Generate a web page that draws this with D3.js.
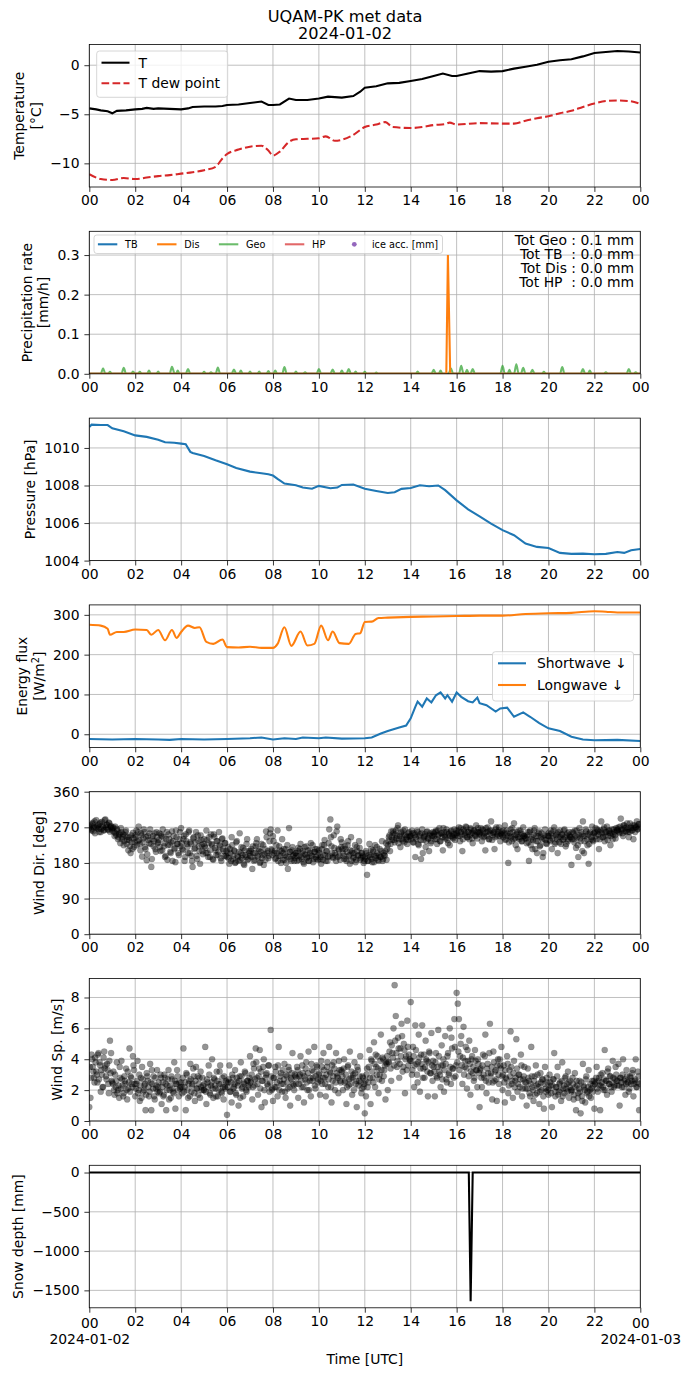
<!DOCTYPE html>
<html>
<head>
<meta charset="utf-8">
<script src="https://cdn.jsdelivr.net/npm/d3@7"></script>
<style>
  body { margin: 0; background: #fff; }
  svg { font-family: "DejaVu Sans", sans-serif; }
  text { white-space: pre; }
</style>
</head>
<body>
<div id="chart"></div>
<script>
// ---- data (hours since 2024-01-02 00 UTC) ----
var hourTicks = [0, 2, 4, 6, 8, 10, 12, 14, 16, 18, 20, 22, 24];
var hourTickLabels = ["00", "02", "04", "06", "08", "10", "12", "14", "16", "18", "20", "22", "00"];

var airTemp = [[0,-4.4],[0.3,-4.5],[0.5,-4.6],[0.8,-4.7],[1,-4.9],[1.2,-4.65],[1.6,-4.6],[2,-4.5],[2.3,-4.45],[2.5,-4.35],[2.8,-4.45],[3,-4.4],[3.5,-4.45],[4,-4.5],[4.3,-4.4],[4.5,-4.25],[5,-4.2],[5.5,-4.2],[5.8,-4.15],[6,-4.05],[6.5,-4.0],[7,-3.85],[7.5,-3.7],[7.8,-4.05],[8,-4.05],[8.3,-4.0],[8.7,-3.4],[9,-3.55],[9.5,-3.55],[10,-3.4],[10.4,-3.2],[11,-3.3],[11.5,-3.15],[11.8,-2.7],[12,-2.3],[12.5,-2.15],[13,-1.85],[13.5,-1.8],[14,-1.6],[14.5,-1.4],[15,-1.1],[15.4,-0.85],[15.8,-1.1],[16,-1.1],[16.5,-0.85],[17,-0.6],[17.5,-0.65],[18,-0.6],[18.5,-0.35],[19,-0.15],[19.5,0.05],[20,0.35],[20.5,0.5],[21,0.6],[21.5,0.9],[22,1.25],[22.5,1.35],[23,1.45],[23.5,1.4],[24,1.3]];
var dewPoint = [[0,-11.1],[0.5,-11.6],[1,-11.7],[1.5,-11.5],[2,-11.6],[2.5,-11.45],[3,-11.3],[3.5,-11.2],[4,-11.05],[4.5,-10.9],[5,-10.7],[5.5,-10.35],[5.8,-9.5],[6,-9.05],[6.5,-8.6],[7,-8.3],[7.5,-8.2],[7.8,-8.7],[8,-9.2],[8.3,-8.8],[8.7,-7.8],[9,-7.55],[9.5,-7.5],[10,-7.45],[10.3,-7.25],[10.7,-7.7],[11,-7.6],[11.5,-7.1],[12,-6.3],[12.5,-6.05],[12.9,-5.8],[13.2,-6.3],[14,-6.4],[14.5,-6.3],[15,-6.1],[15.5,-6.0],[15.7,-5.85],[16,-6.05],[17,-5.9],[18,-5.95],[18.5,-5.95],[19,-5.65],[19.5,-5.4],[20,-5.2],[20.5,-4.9],[21,-4.65],[21.5,-4.25],[22,-3.9],[22.5,-3.65],[23,-3.6],[23.5,-3.65],[24,-3.95]];

var rateTB = [[0,0],[24,0]];
var rateHP = [[0,0],[24,0]];
var rateDis = [[0,0],[15.55,0],[15.62,0.3],[15.72,0],[24,0]];
var rateGeo = [[0,0],[0.5,0],[0.6,0.014],[0.7,0],[0.82,0],[0.9,0.005],[0.98,0],[1.4,0],[1.5,0.015],[1.6,0],[1.82,0],[1.9,0.006],[2.0,0],[2.12,0],[2.2,0.005],[2.28,0],[2.52,0],[2.6,0.008],[2.68,0],[2.92,0],[3.0,0.006],[3.08,0],[3.5,0],[3.6,0.018],[3.72,0],[3.78,0],[3.85,0.008],[3.93,0],[4.2,0],[4.3,0.012],[4.4,0],[4.92,0],[5.0,0.005],[5.08,0],[5.22,0],[5.3,0.004],[5.38,0],[5.5,0],[5.6,0.016],[5.7,0],[6.2,0],[6.3,0.011],[6.4,0],[6.52,0],[6.6,0.008],[6.68,0],[6.92,0],[7.0,0.006],[7.08,0],[7.32,0],[7.4,0.006],[7.48,0],[7.72,0],[7.8,0.007],[7.88,0],[8.02,0],[8.1,0.008],[8.18,0],[8.4,0],[8.5,0.017],[8.6,0],[8.92,0],[9.0,0.006],[9.08,0],[9.32,0],[9.4,0.004],[9.48,0],[9.9,0],[10.0,0.012],[10.1,0],[10.5,0],[10.6,0.011],[10.7,0],[10.92,0],[11.0,0.008],[11.08,0],[11.2,0],[11.3,0.012],[11.4,0],[11.52,0],[11.6,0.006],[11.68,0],[11.92,0],[12.0,0.005],[12.08,0],[12.42,0],[12.5,0.003],[12.58,0],[14.22,0],[14.3,0.006],[14.38,0],[14.9,0],[15.0,0.010],[15.1,0],[15.22,0],[15.3,0.008],[15.38,0],[15.65,0],[15.75,0.014],[15.85,0],[16.1,0],[16.2,0.020],[16.3,0],[16.37,0],[16.45,0.010],[16.53,0],[16.6,0],[16.7,0.012],[16.8,0],[17.9,0],[18.0,0.020],[18.1,0],[18.22,0],[18.3,0.010],[18.38,0],[18.5,0],[18.6,0.024],[18.7,0],[18.8,0],[18.9,0.015],[19.0,0],[19.2,0],[19.3,0.010],[19.4,0],[19.72,0],[19.8,0.005],[19.88,0],[20.5,0],[20.6,0.017],[20.7,0],[21.4,0],[21.5,0.012],[21.6,0],[21.72,0],[21.8,0.008],[21.88,0],[22.42,0],[22.5,0.004],[22.58,0],[23.4,0],[23.5,0.012],[23.6,0],[23.72,0],[23.8,0.004],[23.88,0],[24,0]];
var precipTotals = ["Tot Geo : 0.1 mm", "Tot TB  : 0.0 mm", "Tot Dis : 0.0 mm", "Tot HP  : 0.0 mm"];

var pressure = [[0,1011.12],[0.1,1011.24],[0.5,1011.22],[0.8,1011.22],[1,1011.05],[1.5,1010.89],[2,1010.67],[2.5,1010.59],[3,1010.44],[3.3,1010.3],[3.7,1010.28],[4,1010.23],[4.2,1010.2],[4.4,1009.79],[4.5,1009.73],[5,1009.57],[5.5,1009.34],[6,1009.13],[6.4,1008.93],[7,1008.74],[7.5,1008.65],[7.8,1008.6],[8,1008.53],[8.2,1008.35],[8.5,1008.1],[9,1008.01],[9.3,1007.89],[9.7,1007.83],[10,1007.98],[10.5,1007.85],[10.8,1007.89],[11,1008.03],[11.5,1008.05],[12,1007.83],[12.5,1007.71],[13,1007.6],[13.3,1007.64],[13.6,1007.82],[14,1007.87],[14.4,1008.01],[14.8,1007.96],[15.2,1008.0],[15.5,1007.75],[16,1007.21],[16.5,1006.73],[17,1006.36],[17.5,1005.97],[18,1005.62],[18.5,1005.35],[19,1004.91],[19.5,1004.73],[20,1004.67],[20.5,1004.41],[21,1004.36],[21.5,1004.37],[22,1004.34],[22.5,1004.36],[23,1004.46],[23.3,1004.41],[23.6,1004.55],[24,1004.62]];

var longwave = [[0,275],[0.5,273],[0.8,265],[0.9,250],[1.2,257],[1.5,257],[2,263],[2.5,262],[2.7,250],[3,262],[3.3,236],[3.6,262],[3.8,242],[4.0,257],[4.3,273],[4.6,267],[4.8,269],[5.1,232],[5.4,227],[5.8,238],[6.0,219],[6.5,218],[7,220],[7.5,217],[8,217],[8.2,227],[8.5,269],[8.8,222],[9.2,258],[9.5,223],[9.8,227],[10.1,273],[10.4,236],[10.6,258],[10.9,229],[11.3,227],[11.6,252],[11.8,254],[12,282],[12.3,283],[12.6,292],[13,293],[14,295],[15,296],[16,297],[17,298],[18,298],[19,302],[20,304],[21,305],[22,309],[22.5,308],[23,306],[24,306]];
var shortwave = [[0,-12],[1,-13],[2,-12],[3,-13],[3.5,-14],[4,-12],[5,-13],[6,-12],[7,-10],[7.5,-8],[8,-13],[8.5,-10],[9,-12],[9.3,-8],[10,-10],[10.3,-8],[11,-11],[12,-10],[12.3,-8],[12.7,2],[13,8],[13.5,17],[13.8,22],[14,40],[14.2,69],[14.3,82],[14.5,69],[14.7,90],[14.9,80],[15.1,98],[15.3,105],[15.5,90],[15.6,98],[15.8,82],[16,105],[16.2,94],[16.5,83],[16.7,80],[16.9,92],[17,78],[17.3,73],[17.7,57],[17.9,65],[18.2,67],[18.5,44],[18.9,55],[19.2,44],[19.6,28],[20,15],[20.5,8],[21,-6],[21.5,-13],[22,-15],[23,-14],[24,-17]];
var fluxLabels = ["Shortwave \u2193", "Longwave \u2193"];

// two interleaved sets of readings, each one every 3 minutes (one row per hour);
// set B is taken 1.5 minutes after set A
var windStepHours = 0.05;
var windOffsetB = 0.025;
var windDirA = [
  268,275,262,281,270,255,288,272,266,279,258,284,270,263,290,276,265,282,259,273,
  262,270,248,255,266,240,252,230,258,245,225,250,262,238,212,244,205,232,256,220,
  250,262,235,272,228,255,196,242,258,215,187,248,230,265,170,240,222,255,208,245,
  232,255,210,248,265,222,195,240,188,252,226,205,260,235,215,182,245,228,200,258,
  268,215,240,185,252,228,205,262,232,198,170,245,218,258,190,236,210,250,225,202,
  240,218,262,205,230,195,252,225,188,246,212,235,200,258,222,185,242,210,230,198,
  195,220,178,205,245,190,212,180,232,198,185,255,205,192,218,175,200,228,188,210,
  198,215,165,205,188,222,240,195,210,182,228,200,175,215,260,205,192,235,265,212,
  248,205,190,225,262,198,212,180,240,205,188,215,196,165,268,208,185,220,200,192,
  205,185,218,198,228,190,210,178,202,222,195,185,212,230,198,182,208,215,190,200,
  212,190,178,225,200,238,185,210,195,265,290,222,195,250,205,185,272,215,198,240,
  232,205,190,215,185,225,198,178,245,210,192,205,182,220,198,235,188,205,195,180,
  195,210,150,185,228,200,190,212,182,225,198,205,185,215,195,235,190,200,210,188,
  225,245,210,260,238,255,232,262,248,275,240,220,258,235,250,265,240,228,255,245,
  248,262,232,255,195,240,258,225,252,190,265,238,248,220,258,242,210,255,235,250,
  255,240,262,228,250,268,235,255,212,258,245,265,238,252,225,260,248,242,265,250,
  262,248,270,235,258,210,265,250,272,245,258,240,268,255,230,262,250,275,242,258,
  255,268,235,262,248,212,258,270,240,262,285,238,255,215,265,248,258,270,235,252,
  250,262,275,240,255,180,248,265,235,258,280,242,252,215,262,245,255,235,270,248,
  245,230,258,185,262,240,215,252,268,235,205,248,260,225,255,195,242,265,230,250,
  255,238,262,215,248,270,232,255,205,245,262,228,252,240,265,222,250,235,258,245,
  175,258,240,262,218,245,195,268,235,252,285,205,248,260,225,178,255,240,272,235,
  255,268,240,262,215,258,285,245,265,235,258,272,248,262,225,255,240,265,250,268,
  262,270,255,292,265,248,275,260,270,258,245,280,268,262,240,275,270,285,265,278
];
var windDirB = [
  272,265,278,260,285,270,268,275,258,282,266,274,262,288,270,277,264,280,271,267,
  268,258,272,250,262,245,255,268,240,252,235,258,228,246,238,222,250,215,242,232,
  245,225,258,238,212,250,232,265,220,245,202,238,255,228,190,248,235,215,258,230,
  238,220,252,212,245,230,198,258,225,240,208,232,185,248,218,262,228,205,240,222,
  230,212,248,195,235,220,258,205,228,185,242,215,232,198,250,222,178,238,210,228,
  222,205,238,195,245,212,228,190,252,218,200,235,208,225,192,240,215,198,230,210,
  205,192,215,185,225,198,210,182,235,195,208,188,220,200,178,212,195,240,190,205,
  210,195,222,185,205,230,198,215,180,208,192,225,202,188,245,210,198,255,215,200,
  235,210,192,205,185,222,198,210,188,215,200,180,225,195,208,190,212,198,185,205,
  198,210,188,215,195,205,182,220,200,192,212,185,205,198,225,190,208,195,215,188,
  205,195,215,188,225,200,210,185,230,198,245,205,192,218,200,260,195,212,188,220,
  215,198,222,190,208,235,200,212,185,205,195,225,188,210,200,218,192,205,198,185,
  190,205,185,200,195,215,182,208,198,192,220,188,200,195,210,185,205,198,230,215,
  235,250,228,245,260,238,252,242,268,230,248,255,240,262,232,250,245,238,258,248,
  240,255,232,250,245,262,228,248,238,255,205,245,252,235,260,242,250,230,248,258,
  248,258,240,262,252,235,255,245,268,250,242,258,230,255,248,262,245,252,238,255,
  255,262,248,268,252,240,260,255,270,245,258,250,265,242,255,262,248,258,268,252,
  258,250,265,245,255,268,248,260,240,255,262,250,258,245,270,252,262,248,255,260,
  245,255,238,262,248,232,255,245,268,240,250,225,258,245,240,262,235,252,248,242,
  242,250,232,258,225,245,238,262,215,248,235,255,222,245,240,205,250,238,228,248,
  248,235,255,242,262,228,250,240,258,232,245,252,238,262,245,228,255,240,250,245,
  240,255,232,248,262,225,250,242,258,210,248,235,265,240,252,228,258,245,238,255,
  258,248,265,252,240,262,255,245,270,250,258,238,262,255,248,265,252,258,242,262,
  265,258,272,262,255,275,268,260,280,265,258,270,262,275,268,258,272,265,278,270
];
var windSpeedA = [
  0.9,1.5,4.3,3.5,2.8,4.1,3.2,2.5,4.4,3.8,1.9,3.0,2.2,4.5,3.6,2.7,3.3,1.8,5.2,4.4,
  2.5,3.2,1.7,2.2,3.8,2.0,1.5,2.8,3.9,2.3,1.8,2.6,3.4,1.4,2.1,4.7,2.9,2.4,4.2,3.3,
  1.6,2.4,3.9,2.0,1.3,2.8,3.5,1.9,2.3,0.7,3.1,2.6,1.6,3.7,0.7,2.4,2.9,1.4,2.1,3.3,
  2.2,1.8,3.0,1.1,2.5,1.7,2.8,0.7,2.3,3.3,2.0,1.5,2.7,1.9,3.8,0.8,2.4,2.9,1.6,2.1,
  2.5,1.8,4.7,2.2,0.7,3.0,1.5,2.6,3.7,1.9,2.4,2.9,1.3,3.5,2.1,1.7,2.8,3.2,2.0,2.3,
  2.0,4.8,1.1,2.5,3.6,1.8,2.3,4.0,1.5,2.7,2.1,3.2,1.6,2.4,3.6,1.9,2.8,1.4,2.2,2.6,
  0.4,2.5,3.6,1.9,1.2,2.8,2.2,3.3,1.7,2.5,1.0,2.9,3.8,2.1,1.6,2.4,3.1,1.9,2.6,2.2,
  4.2,2.6,1.4,3.7,2.3,4.7,2.8,1.7,3.4,2.1,0.9,2.6,4.0,1.2,3.0,2.4,3.6,1.9,5.9,2.0,
  1.3,2.8,3.5,2.2,1.6,4.8,2.6,3.1,1.9,2.4,3.7,1.5,2.9,2.1,3.3,1.0,2.7,4.4,2.3,3.0,
  2.4,3.5,1.5,2.9,4.2,2.2,3.1,1.2,2.7,3.8,2.0,4.5,2.6,1.6,3.3,2.8,4.8,2.1,3.6,2.5,
  3.0,1.7,3.9,2.4,4.4,2.8,1.6,3.5,2.2,4.8,3.1,1.2,2.6,3.8,2.0,4.4,2.9,1.8,3.3,2.5,
  3.2,2.0,4.0,2.6,1.1,3.5,2.3,4.5,2.8,1.7,3.0,3.8,2.4,0.9,3.3,2.6,4.2,1.8,2.9,2.2,
  0.5,1.6,3.4,2.5,4.6,1.1,3.9,2.8,5.1,2.2,3.5,4.2,1.8,3.0,5.6,2.6,4.0,3.3,1.4,3.7,
  2.0,3.8,5.1,2.6,4.4,6.0,8.8,6.8,3.5,5.4,2.8,4.7,6.3,3.2,5.0,1.8,4.2,6.5,3.6,4.0,
  7.7,3.0,4.8,2.2,6.2,3.7,2.5,5.6,1.9,4.3,6.2,3.4,2.8,5.2,3.9,1.6,4.5,3.1,5.7,2.6,
  3.5,1.6,4.4,2.8,5.9,3.2,2.2,4.9,3.6,1.9,5.5,2.7,4.2,3.0,6.0,2.4,4.7,3.4,6.6,2.9,
  8.3,7.6,6.6,4.2,5.5,2.4,6.1,3.5,4.8,2.1,3.9,5.2,1.7,4.0,3.1,2.6,4.6,3.3,2.2,3.7,
  0.9,3.4,2.2,4.3,2.8,5.6,1.8,3.7,2.5,6.3,3.1,1.4,4.5,2.6,3.3,1.3,4.0,2.4,3.6,4.8,
  2.0,3.6,1.2,2.8,4.2,1.8,3.3,5.8,2.4,1.5,3.9,2.6,5.3,1.9,3.0,2.2,4.3,1.6,2.7,3.5,
  2.1,1.0,3.4,2.6,1.6,4.8,2.2,1.3,2.9,3.6,1.8,2.4,1.1,3.1,2.0,2.7,0.8,3.5,1.9,2.5,
  1.7,3.0,2.3,0.9,2.7,4.4,1.6,2.2,3.5,1.9,2.5,1.3,3.8,2.1,1.8,2.9,2.4,3.2,1.5,2.6,
  1.9,2.8,1.4,3.1,0.7,2.3,1.8,2.6,0.5,1.6,3.7,2.2,1.2,2.9,1.9,3.3,2.0,1.5,2.6,2.3,
  0.8,2.5,3.5,1.9,2.8,0.7,2.3,3.1,2.0,4.6,2.6,1.7,3.4,2.4,2.9,1.9,3.9,2.2,2.7,3.0,
  2.3,3.7,1.0,2.8,2.2,4.0,2.6,1.7,3.3,2.5,1.9,2.9,2.4,3.1,1.6,2.6,4.0,2.2,3.2,0.7
];
var windSpeedB = [
  3.5,2.8,4.0,3.2,2.5,3.8,3.0,4.3,2.7,3.6,3.3,2.2,4.1,3.4,2.9,3.7,2.4,3.9,3.1,2.6,
  2.4,2.0,3.0,2.6,1.8,2.3,3.5,2.1,2.7,1.6,2.9,2.4,2.0,3.2,2.5,1.9,2.8,2.2,3.6,2.4,
  2.1,2.6,1.8,3.0,2.3,1.5,2.7,2.0,2.4,1.7,2.9,2.2,1.9,2.5,3.3,2.1,1.6,2.8,2.3,1.9,
  2.5,1.9,2.8,2.2,1.6,3.0,2.4,2.0,2.7,1.4,2.3,2.9,2.1,1.8,2.6,2.4,3.3,2.0,2.5,2.2,
  2.2,2.8,1.9,2.5,3.1,2.0,2.4,1.6,2.7,2.3,3.4,1.8,2.6,2.1,2.9,2.4,1.5,2.2,2.8,2.0,
  2.4,1.9,2.7,2.2,3.0,1.7,2.5,2.1,2.8,2.3,1.6,2.6,2.0,3.2,2.4,1.8,2.2,2.9,2.1,2.5,
  2.2,2.7,1.9,2.5,3.0,2.1,2.4,1.8,2.8,2.3,2.6,1.5,2.9,2.2,2.5,3.2,2.0,2.6,2.3,2.8,
  2.5,3.0,2.2,3.4,2.7,3.8,2.4,2.9,4.6,3.2,2.6,3.5,2.0,2.8,3.1,2.3,3.6,2.5,2.9,2.1,
  2.8,2.2,3.2,2.5,3.6,2.0,2.9,2.4,3.3,2.7,1.9,3.0,2.5,3.5,2.2,2.8,3.1,2.4,2.0,2.9,
  2.8,3.3,2.4,3.0,2.6,3.6,2.2,2.9,3.4,2.5,3.1,2.0,2.8,3.7,2.6,3.2,2.3,2.9,3.5,2.7,
  3.1,2.6,3.5,2.8,3.3,2.4,3.0,3.8,2.7,3.2,2.2,3.6,2.9,3.4,2.5,3.1,2.8,3.9,2.6,3.3,
  2.9,3.4,2.5,3.0,2.2,3.6,2.7,2.4,3.2,2.8,2.0,3.1,2.6,3.5,2.3,2.9,2.5,2.1,2.8,2.4,
  2.6,3.0,2.2,3.5,2.8,4.0,3.2,2.5,3.7,4.3,3.0,3.4,2.7,3.9,3.3,4.1,2.9,3.6,3.8,4.2,
  3.8,4.5,3.4,4.9,4.1,3.6,5.2,4.4,3.9,4.7,3.7,4.2,5.5,3.5,4.6,4.0,3.3,4.8,4.3,3.9,
  3.9,3.3,4.2,3.6,4.6,3.0,3.8,4.1,3.4,3.7,2.8,4.3,3.5,4.0,3.2,3.8,4.4,3.1,3.6,3.9,
  3.2,3.8,2.9,3.5,4.2,3.0,3.6,2.7,4.0,3.3,3.7,2.5,4.4,3.1,3.5,5.4,3.4,2.8,4.8,3.6,
  3.8,4.5,3.3,5.0,3.6,4.1,3.0,3.9,3.4,4.6,2.9,3.7,3.2,4.2,3.5,2.8,3.9,3.3,4.0,3.1,
  3.3,2.8,3.6,3.0,4.2,2.6,3.4,3.1,4.4,2.9,3.5,2.5,3.8,3.2,2.7,3.6,3.0,4.0,3.4,2.9,
  3.0,2.5,3.3,2.7,3.7,2.3,2.9,3.5,2.6,3.1,2.2,2.8,3.4,2.4,3.0,2.7,3.6,2.1,2.9,2.5,
  2.5,2.1,2.8,1.8,2.4,2.9,2.0,2.6,1.7,2.3,3.0,2.2,1.9,2.5,2.7,1.6,2.4,2.1,2.8,2.0,
  2.1,2.5,1.8,2.3,2.7,1.9,2.2,2.9,1.7,2.4,2.0,2.6,1.6,2.3,2.8,2.1,1.9,2.5,2.2,2.0,
  2.0,2.4,1.7,2.2,2.6,1.5,2.1,1.9,2.5,1.3,2.3,2.0,2.7,1.8,2.2,1.6,2.4,2.1,1.9,2.6,
  2.4,2.8,2.1,2.6,2.3,3.0,2.5,2.2,2.7,2.0,2.6,3.2,2.4,2.9,2.2,2.5,2.8,2.3,3.5,2.6,
  2.6,2.3,2.8,2.5,3.0,2.2,2.7,2.4,2.9,2.5,2.1,2.8,2.6,3.3,2.4,2.7,2.2,2.5,2.9,2.4
];

var snowDepth = [[0,0],[16.53,0],[16.61,-1640],[16.7,0],[24,0]];

// ---- layout ----
var width = 690, height = 1377;
var plotLeft = 89.3, plotRight = 640.3;
var panelTop0 = 44.5, panelStep = 186.8, panelH = 142.5;
var fs = 13.9;

var svg = d3.select("#chart").append("svg")
  .attr("width", width)
  .attr("height", height);

var x = d3.scaleLinear().domain([0, 24]).range([plotLeft, plotRight]);

function minusFmt(d) { return d3.format("d")(d).replace("-", "\u2212"); }

var panels = [
  { y: [-12.41, 2.11], ticks: [-10, -5, 0], fmt: minusFmt, label: ["Temperature", "[\u00b0C]"], labelX: 41.1 },
  { y: [0, 0.36], ticks: [0, 0.1, 0.2, 0.3], fmt: d3.format(".1f"), label: ["Precipitation rate", "[mm/h]"], labelX: 48.3 },
  { y: [1004, 1011.59], ticks: [1004, 1006, 1008, 1010], fmt: d3.format("d"), label: ["Pressure [hPa]"], labelX: 35 },
  { y: [-33, 325], ticks: [0, 100, 200, 300], fmt: d3.format("d"), label: ["Energy flux", "[W/m2]"], labelX: 43.9 },
  { y: [0, 360], ticks: [0, 90, 180, 270, 360], fmt: d3.format("d"), label: ["Wind Dir. [deg]"], labelX: 43.9 },
  { y: [0, 9.23], ticks: [0, 2, 4, 6, 8], fmt: d3.format("d"), label: ["Wind Sp. [m/s]"], labelX: 61.6 },
  { y: [-1722, 92], ticks: [-1500, -1000, -500, 0], fmt: minusFmt, label: ["Snow depth [mm]"], labelX: 23.4 }
];

panels.forEach(function(p, i) {
  var top = panelTop0 + i * panelStep, bottom = top + panelH;
  p.top = top; p.bottom = bottom;
  p.scale = d3.scaleLinear().domain(p.y).range([bottom, top]);
  var g = svg.append("g");
  p.g = g;

  // grid
  g.selectAll(".vg").data(hourTicks).enter().append("line")
    .attr("x1", function(d) { return x(d); }).attr("x2", function(d) { return x(d); })
    .attr("y1", top).attr("y2", bottom)
    .attr("stroke", "#b0b0b0").attr("stroke-width", 0.8);
  g.selectAll(".hg").data(p.ticks).enter().append("line")
    .attr("x1", plotLeft).attr("x2", plotRight)
    .attr("y1", function(d) { return p.scale(d); }).attr("y2", function(d) { return p.scale(d); })
    .attr("stroke", "#b0b0b0").attr("stroke-width", 0.8);

  svg.append("clipPath").attr("id", "clip" + i)
    .append("rect").attr("x", plotLeft).attr("y", top)
    .attr("width", plotRight - plotLeft).attr("height", panelH);
  p.plot = g.append("g").attr("clip-path", "url(#clip" + i + ")");

  // axes
  var xa = g.append("g").attr("transform", "translate(0," + bottom + ")")
    .call(d3.axisBottom(x).tickValues(hourTicks)
      .tickFormat(function(d, k) { return hourTickLabels[k]; })
      .tickSize(4.9).tickPadding(3.5));
  var ya = g.append("g").attr("transform", "translate(" + plotLeft + ",0)")
    .call(d3.axisLeft(p.scale).tickValues(p.ticks).tickFormat(p.fmt)
      .tickSize(4.9).tickPadding(4.9));
  [xa, ya].forEach(function(a) {
    a.attr("font-family", null).attr("font-size", fs);
    a.select(".domain").remove();
    a.selectAll(".tick line").attr("stroke", "#000").attr("stroke-width", 0.8);
    a.selectAll(".tick text").attr("fill", "#000");
  });
  p.xa = xa;

  // y label
  var cy = (top + bottom) / 2;
  var lab = g.append("text")
    .attr("transform", "translate(" + p.labelX + "," + cy + ") rotate(-90)")
    .attr("text-anchor", "middle").attr("font-size", fs);
  p.label.forEach(function(s, k) {
    var t = lab.append("tspan").attr("x", 0)
      .attr("y", (k - (p.label.length - 1)) * 16.7);
    if (s === "[W/m2]") {
      t.text("[W/m");
      lab.append("tspan").attr("font-size", fs * 0.7).attr("dy", -5).text("2");
      lab.append("tspan").attr("dy", 5).text("]");
    } else {
      t.text(s);
    }
  });
});

// frames drawn after data
function frame(p) {
  p.g.append("rect").attr("x", plotLeft).attr("y", p.top)
    .attr("width", plotRight - plotLeft).attr("height", panelH)
    .attr("fill", "none").attr("stroke", "#000").attr("stroke-width", 0.8);
}

function line(yScale, curve) {
  return d3.line()
    .x(function(d) { return x(d[0]); })
    .y(function(d) { return yScale(d[1]); })
    .curve(curve || d3.curveLinear);
}

function legendBox(x0, y0, w, h) {
  svg.append("rect").attr("x", x0).attr("y", y0).attr("width", w).attr("height", h)
    .attr("rx", 2.8).attr("fill", "#fff").attr("fill-opacity", 0.8)
    .attr("stroke", "#cccccc").attr("stroke-width", 0.8);
}

// ---- title ----
svg.append("text").attr("x", 345).attr("y", 21.5).attr("text-anchor", "middle")
  .attr("font-size", 16.2).text("UQAM-PK met data");
svg.append("text").attr("x", 345).attr("y", 38.8).attr("text-anchor", "middle")
  .attr("font-size", 16.2).text("2024-01-02");

// ---- panel 1: temperature ----
var p1 = panels[0];
p1.plot.append("path").datum(airTemp).attr("d", line(p1.scale))
  .attr("fill", "none").attr("stroke", "#000").attr("stroke-width", 2.08);
p1.plot.append("path").datum(dewPoint).attr("d", line(p1.scale, d3.curveMonotoneX))
  .attr("fill", "none").attr("stroke", "#d62728").attr("stroke-width", 2.08)
  .attr("stroke-dasharray", "7.7,3.3");
frame(p1);
legendBox(96.7, 51, 131, 46.3);
svg.append("line").attr("x1", 101.5).attr("x2", 129.5).attr("y1", 62.7).attr("y2", 62.7)
  .attr("stroke", "#000").attr("stroke-width", 2.08);
svg.append("line").attr("x1", 101.5).attr("x2", 129.5).attr("y1", 83.3).attr("y2", 83.3)
  .attr("stroke", "#d62728").attr("stroke-width", 2.08).attr("stroke-dasharray", "7.7,3.3");
svg.append("text").attr("x", 138.5).attr("y", 67.7).attr("font-size", fs).text("T");
svg.append("text").attr("x", 138.5).attr("y", 88.3).attr("font-size", fs).text("T dew point");

// ---- panel 2: precipitation ----
var p2 = panels[1];
var precipSeries = [
  { data: rateTB, color: "#1f77b4", op: 1 },
  { data: rateHP, color: "#d62728", op: 0.7 },
  { data: rateGeo, color: "#2ca02c", op: 0.7 },
  { data: rateDis, color: "#ff7f0e", op: 1 }
];
precipSeries.forEach(function(s) {
  p2.plot.append("path").datum(s.data)
    .attr("d", line(p2.scale, s.data === rateGeo ? d3.curveMonotoneX : d3.curveLinear))
    .attr("fill", "none").attr("stroke", s.color).attr("stroke-opacity", s.op)
    .attr("stroke-width", 2.08);
});
frame(p2);
legendBox(94, 235, 348.5, 18.5);
var precipLegend = [
  { name: "TB", color: "#1f77b4", op: 1, x: 97.9 },
  { name: "Dis", color: "#ff7f0e", op: 1, x: 157.1 },
  { name: "Geo", color: "#2ca02c", op: 0.7, x: 218.9 },
  { name: "HP", color: "#d62728", op: 0.7, x: 284.9 }
];
precipLegend.forEach(function(e) {
  svg.append("line").attr("x1", e.x).attr("x2", e.x + 19.4).attr("y1", 244.3).attr("y2", 244.3)
    .attr("stroke", e.color).attr("stroke-opacity", e.op).attr("stroke-width", 2.08);
  svg.append("text").attr("x", e.x + 27.2).attr("y", 247.7).attr("font-size", 9.7).text(e.name);
});
svg.append("circle").attr("cx", 354.3).attr("cy", 244.3).attr("r", 2.4).attr("fill", "#9467bd");
svg.append("text").attr("x", 371.9).attr("y", 247.7).attr("font-size", 9.7).text("ice acc. [mm]");
svg.append("text").attr("text-anchor", "end").attr("font-size", fs)
  .selectAll("tspan").data(precipTotals).enter().append("tspan")
  .attr("x", 634).attr("y", function(d, k) { return 244.5 + k * 14; })
  .text(function(d) { return d; });

// ---- panel 3: pressure ----
var p3 = panels[2];
p3.plot.append("path").datum(pressure).attr("d", line(p3.scale))
  .attr("fill", "none").attr("stroke", "#1f77b4").attr("stroke-width", 2.08);
frame(p3);

// ---- panel 4: energy flux ----
var p4 = panels[3];
p4.plot.append("path").datum(shortwave).attr("d", line(p4.scale))
  .attr("fill", "none").attr("stroke", "#1f77b4").attr("stroke-width", 2.08);
p4.plot.append("path").datum(longwave).attr("d", line(p4.scale, d3.curveMonotoneX))
  .attr("fill", "none").attr("stroke", "#ff7f0e").attr("stroke-width", 2.08);
frame(p4);
legendBox(492.5, 651.7, 141, 49.3);
[["#1f77b4", 663.3], ["#ff7f0e", 685]].forEach(function(e, k) {
  svg.append("line").attr("x1", 498).attr("x2", 526).attr("y1", e[1]).attr("y2", e[1])
    .attr("stroke", e[0]).attr("stroke-width", 2.08);
  svg.append("text").attr("x", 537).attr("y", e[1] + 5).attr("font-size", fs).text(fluxLabels[k]);
});

// ---- panel 5 & 6: wind scatter ----
function scatter(p, values, offset) {
  p.plot.append("g").selectAll("circle").data(values).enter().append("circle")
    .attr("cx", function(d, k) { return x(k * windStepHours + offset); })
    .attr("cy", function(d) { return p.scale(d); })
    .attr("r", 3.1)
    .attr("fill", "#000").attr("fill-opacity", 0.42)
    .attr("stroke", "#000").attr("stroke-opacity", 0.2).attr("stroke-width", 0.5);
}
scatter(panels[4], windDirA, 0);
scatter(panels[4], windDirB, windOffsetB);
frame(panels[4]);
scatter(panels[5], windSpeedA, 0);
scatter(panels[5], windSpeedB, windOffsetB);
frame(panels[5]);

// ---- panel 7: snow depth ----
var p7 = panels[6];
p7.plot.append("path").datum(snowDepth).attr("d", line(p7.scale))
  .attr("fill", "none").attr("stroke", "#000").attr("stroke-width", 2.08);
frame(p7);

// date under first and last tick of the bottom axis
var dateLabels = ["2024-01-02", "2024-01-03"];
p7.xa.selectAll(".tick text").each(function(d, k) {
  if (k === 0 || k === hourTicks.length - 1) {
    var t = d3.select(this);
    t.attr("dy", null).attr("y", 20.6);
    t.append("tspan").attr("x", 0).attr("y", 36.6)
      .text(k === 0 ? dateLabels[0] : dateLabels[1]);
  }
});
svg.append("text").attr("x", (plotLeft + plotRight) / 2).attr("y", 1363.5)
  .attr("text-anchor", "middle").attr("font-size", fs).text("Time [UTC]");
</script>
</body>
</html>
